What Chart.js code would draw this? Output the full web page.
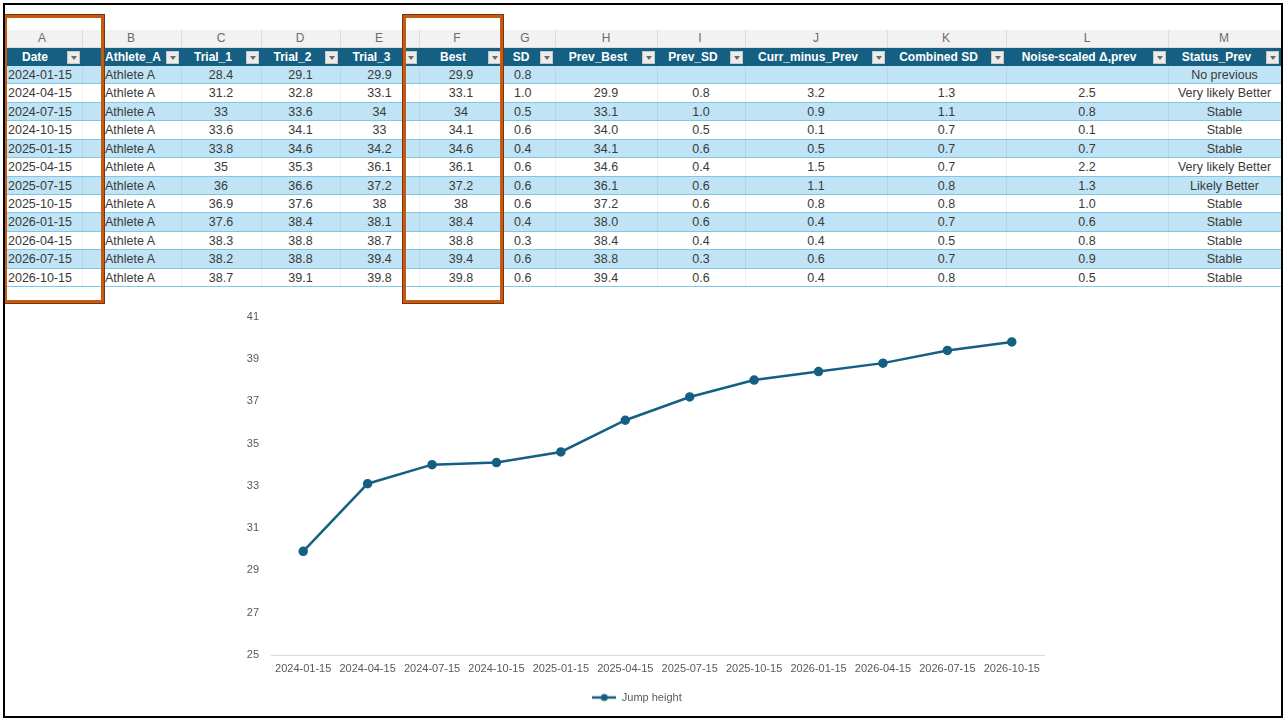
<!DOCTYPE html>
<html>
<head>
<meta charset="utf-8">
<script src="https://cdn.jsdelivr.net/npm/chart.js"></script>
<style>
  body { margin: 0; background: #fff; font-family: 'Liberation Sans', Arial, sans-serif; }
  #page { position: relative; width: 1284px; height: 719px; overflow: hidden; }
  .frame { position: absolute; left: 3px; top: 3px; width: 1276px; height: 711px; border: 2px solid #000; }
  .c { position: absolute; box-sizing: border-box; white-space: nowrap; overflow: hidden; font-size: 12.5px; color: #3a3a3a; line-height: 18px; }
  .letter { color: #6b6b6b; font-size: 12px; line-height: 17px; text-align: center; }
  .head { color: #fff; font-weight: bold; font-size: 12px; }
  .btn { position: absolute; width: 13px; height: 13px; background: #ececec; border: 1px solid #c8c8c8; box-sizing: border-box; }
  .btn:after { content: ''; position: absolute; left: 3px; top: 4px; border-left: 3px solid transparent; border-right: 3px solid transparent; border-top: 4px solid #6b6b6b; }
  .sel { position: absolute; border: 3px solid #c55a11; outline: 1px solid #7a3510; box-sizing: border-box; }
  #chartBox { position: absolute; left: 230px; top: 298px; }
</style>
</head>
<body>
<div id="page">
  <div id="sheet"></div>
  <div id="chartBox"><canvas id="jumpChart" width="830" height="417"></canvas></div>
  <div class="sel" style="left:4px; top:15px; width:100px; height:288px;"></div>
  <div class="sel" style="left:403px; top:15px; width:100px; height:288px;"></div>
  <div class="frame"></div>
</div>
<script>
// Table / chart data
const dates = [ '2024-01-15', '2024-04-15', '2024-07-15', '2024-10-15', '2025-01-15', '2025-04-15', '2025-07-15', '2025-10-15', '2026-01-15', '2026-04-15', '2026-07-15', '2026-10-15' ];
const athlete = [ 'Athlete A', 'Athlete A', 'Athlete A', 'Athlete A', 'Athlete A', 'Athlete A', 'Athlete A', 'Athlete A', 'Athlete A', 'Athlete A', 'Athlete A', 'Athlete A' ];
const trial1 = [ 28.4, 31.2, 33, 33.6, 33.8, 35, 36, 36.9, 37.6, 38.3, 38.2, 38.7 ];
const trial2 = [ 29.1, 32.8, 33.6, 34.1, 34.6, 35.3, 36.6, 37.6, 38.4, 38.8, 38.8, 39.1 ];
const trial3 = [ 29.9, 33.1, 34, 33, 34.2, 36.1, 37.2, 38, 38.1, 38.7, 39.4, 39.8 ];
const best = [ 29.9, 33.1, 34, 34.1, 34.6, 36.1, 37.2, 38, 38.4, 38.8, 39.4, 39.8 ];
const sd = [ 0.8, 1.0, 0.5, 0.6, 0.4, 0.6, 0.6, 0.6, 0.4, 0.3, 0.6, 0.6 ];
const prevBest = [ null, 29.9, 33.1, 34.0, 34.1, 34.6, 36.1, 37.2, 38.0, 38.4, 38.8, 39.4 ];
const prevSd = [ null, 0.8, 1.0, 0.5, 0.6, 0.4, 0.6, 0.6, 0.6, 0.4, 0.3, 0.6 ];
const currMinusPrev = [ null, 3.2, 0.9, 0.1, 0.5, 1.5, 1.1, 0.8, 0.4, 0.4, 0.6, 0.4 ];
const combinedSd = [ null, 1.3, 1.1, 0.7, 0.7, 0.7, 0.8, 0.8, 0.7, 0.5, 0.7, 0.8 ];
const noiseScaled = [ null, 2.5, 0.8, 0.1, 0.7, 2.2, 1.3, 1.0, 0.6, 0.8, 0.9, 0.5 ];
const statusPrev = [ 'No previous', 'Very likely Better', 'Stable', 'Stable', 'Stable', 'Very likely Better', 'Likely Better', 'Stable', 'Stable', 'Stable', 'Stable', 'Stable' ];

const letters = [ 'A', 'B', 'C', 'D', 'E', 'F', 'G', 'H', 'I', 'J', 'K', 'L', 'M' ];
const headers = [ 'Date', 'Athlete_A', 'Trial_1', 'Trial_2', 'Trial_3', 'Best', 'SD', 'Prev_Best', 'Prev_SD', 'Curr_minus_Prev', 'Combined SD', 'Noise-scaled \u0394,prev', 'Status_Prev' ];

// helpers to format cells like the sheet does
const general = v => v == null ? '' : String( v );
const oneDec = v => v == null ? '' : v.toFixed( 1 );
const columns = [
    [ dates, String ], [ athlete, String ], [ trial1, general ], [ trial2, general ], [ trial3, general ],
    [ best, general ], [ sd, oneDec ], [ prevBest, oneDec ], [ prevSd, oneDec ], [ currMinusPrev, oneDec ],
    [ combinedSd, oneDec ], [ noiseScaled, oneDec ], [ statusPrev, String ]
];

// sheet geometry (px)
const colEdges = [ 4, 101, 181, 261, 340, 419, 503, 555, 657, 745, 887, 1006, 1168, 1281 ];
const letterX = [ 42, 131, 221, 300, 379, 457, 525, 606, 700, 816, 946, 1087, 1224 ];
const textLeft = { 0: 8, 1: 105, 6: 514 };
const letterTop = 30, headTop = 48, rowTop = 66, rowH = 18.42;

let sheet = document.getElementById( 'sheet' );
function box ( cls, l, t, w, h, css, txt )
{
    let d = document.createElement( 'div' );
    d.className = cls;
    d.style.cssText = 'left:' + l + 'px;top:' + t + 'px;width:' + w + 'px;height:' + h + 'px;' + ( css || '' );
    if ( txt != null ) d.textContent = txt;
    sheet.appendChild( d );
    return d;
}

// column letter row
box( 'c', 4, letterTop, 1277, 18, 'background:#f2f2f2;border-bottom:1px solid #dcdcdc;' );
letters.forEach( ( L, i ) => box( 'c letter', letterX[ i ] - 20, letterTop, 40, 17, '', L ) );

// data rows
for ( let r = 0; r < dates.length; r++ )
{
    let top = rowTop + r * rowH;
    box( 'c', 4, top, 1277, rowH, 'background:' + ( r % 2 === 0 ? '#c0e4f5' : '#ffffff' ) + ';border-bottom:1px solid #7ec8e6;' );
}

// faint vertical grid
[ 82 ].concat( colEdges.slice( 1, -1 ) ).forEach( x =>
{
    box( 'c', x, letterTop, 1, 18, 'background:#dcdcdc;' );
    box( 'c', x, rowTop, 1, rowH * dates.length, 'background:rgba(0,0,0,0.06);' );
} );

// header row
box( 'c', 4, headTop, 1277, 18, 'background:#156082;' );
headers.forEach( ( h, i ) =>
{
    let l = colEdges[ i ], r = i === 0 ? 82 : colEdges[ i + 1 ];
    box( 'c head', l, headTop, r - l - 16, 18, 'text-align:center;', h );
    let b = document.createElement( 'div' );
    b.className = 'btn';
    b.style.left = ( r - 15 ) + 'px';
    b.style.top = ( headTop + 3 ) + 'px';
    sheet.appendChild( b );
} );

// cell values
columns.forEach( ( [ arr, fmt ], i ) =>
{
    let l = colEdges[ i ], r = colEdges[ i + 1 ];
    arr.forEach( ( v, k ) =>
    {
        let top = rowTop + k * rowH;
        if ( textLeft[ i ] != null )
            box( 'c', textLeft[ i ], top, r - textLeft[ i ], rowH, '', fmt( v ) );
        else
            box( 'c', l, top, r - l, rowH, 'text-align:center;', fmt( v ) );
    } );
} );

// legend marker: line with a dot
let marker = document.createElement( 'canvas' );
marker.width = 24; marker.height = 10;
let mctx = marker.getContext( '2d' );
mctx.strokeStyle = '#156082'; mctx.lineWidth = 2.5;
mctx.beginPath(); mctx.moveTo( 0, 5 ); mctx.lineTo( 24, 5 ); mctx.stroke();
mctx.fillStyle = '#156082';
mctx.beginPath(); mctx.arc( 12, 5, 3.5, 0, Math.PI * 2 ); mctx.fill();

Chart.defaults.font.family = "'Liberation Sans', Arial, sans-serif";
let ctx = document.getElementById( 'jumpChart' ).getContext( '2d' );
let chart = new Chart( ctx, {
    type: 'line',
    data: {
        labels: dates,
        datasets: [ {
            label: 'Jump height',
            data: best,
            borderColor: '#156082',
            backgroundColor: '#156082',
            borderWidth: 2.5,
            pointRadius: 3.5,
            pointHoverRadius: 3.5,
            tension: 0,
            fill: false,
        } ]
    },
    options: {
        responsive: false,
        animation: false,
        layout: { padding: { top: 10, right: 16, bottom: 2, left: 0 } },
        plugins: {
            tooltip: { enabled: false },
            legend: {
                position: 'bottom',
                labels: {
                    usePointStyle: true,
                    pointStyle: marker,
                    pointStyleWidth: 24,
                    boxHeight: 10,
                    color: '#595959',
                    font: { size: 11 },
                    padding: 10
                }
            }
        },
        scales: {
            x: {
                offset: true,
                grid: { display: false, drawTicks: false },
                border: { display: true, color: '#d9d9d9', width: 1 },
                ticks: { color: '#595959', font: { size: 11 }, maxRotation: 0, autoSkip: false, padding: 7 },
                afterFit: s => { s.height = 27; }
            },
            y: {
                min: 25,
                max: 41,
                grid: { display: false, drawTicks: false },
                border: { display: false },
                ticks: { stepSize: 2, color: '#595959', font: { size: 11 }, padding: 12 },
                afterFit: s => { s.width = 41; }
            }
        }
    }
} );
</script>
</body>
</html>
